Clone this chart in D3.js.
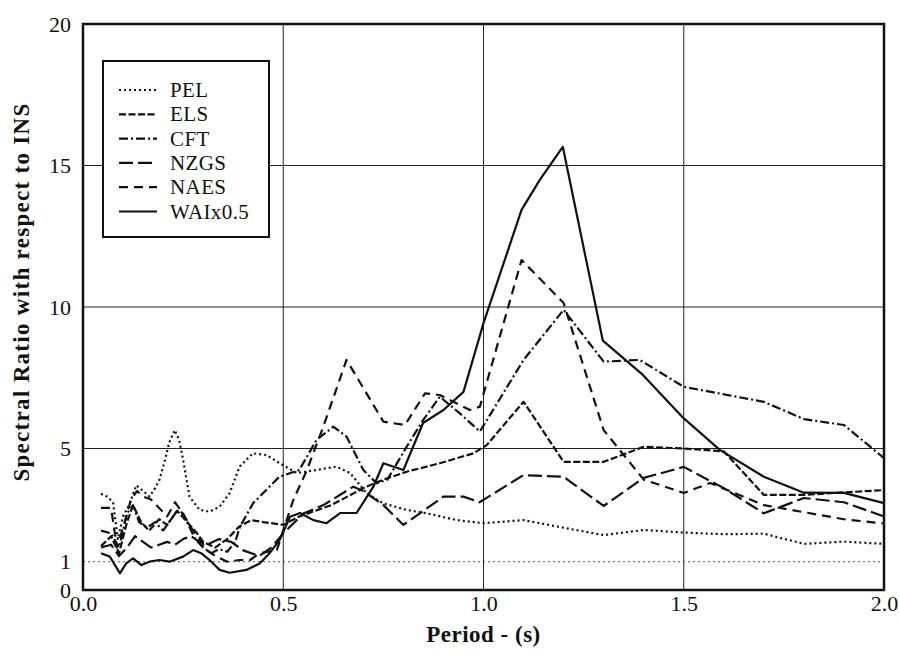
<!DOCTYPE html>
<html>
<head>
<meta charset="utf-8">
<script src="https://cdn.jsdelivr.net/npm/d3@7"></script>
<style>
  body { margin: 0; background: #fff; }
  text { font-family: "Liberation Serif", "Times New Roman", serif; fill: #111; }
</style>
</head>
<body>
<div id="chart"></div>
<script>
// series names + dash styles (legend order)
const seriesNames = ["PEL", "ELS", "CFT", "NZGS", "NAES", "WAIx0.5"];

// periods (s) and spectral ratios, one pair of arrays per site
const pelT = [0.045,0.06,0.075,0.087,0.1,0.115,0.133,0.15,0.166,0.18,0.191,0.205,0.215,0.229,0.24,0.25,0.266,0.291,0.316,0.341,0.366,0.391,0.424,0.458,0.491,0.534,0.583,0.633,0.667,0.708,0.75,0.808,0.858,0.933,1.0,1.1,1.2,1.3,1.4,1.5,1.6,1.7,1.8,1.9,2.0];
const pelV = [3.4,3.3,3.1,1.8,2.6,3.0,3.7,3.5,3.3,3.6,3.9,4.6,5.2,5.65,5.3,4.6,3.3,2.83,2.77,2.94,3.42,4.36,4.83,4.77,4.48,4.13,4.24,4.36,4.13,3.42,3.06,2.83,2.71,2.47,2.36,2.47,2.2,1.94,2.12,2.03,1.97,1.99,1.63,1.71,1.63];

const elsT = [0.045,0.07,0.09,0.11,0.125,0.145,0.165,0.19,0.21,0.235,0.26,0.285,0.3,0.33,0.36,0.39,0.42,0.45,0.5,0.54,0.58,0.62,0.66,0.7,0.75,0.808,0.891,0.975,1.008,1.1,1.2,1.3,1.4,1.5,1.6,1.7,1.8,1.9,2.0];
const elsV = [1.55,1.9,1.3,2.4,3.0,2.4,2.1,2.5,2.3,2.8,2.4,2.0,1.7,1.5,1.8,2.24,2.47,2.4,2.3,2.6,2.8,3.0,3.3,3.6,3.9,4.18,4.48,4.83,5.12,6.65,4.53,4.53,5.06,5.0,4.9,3.36,3.36,3.45,3.53];

const cftT = [0.045,0.07,0.09,0.11,0.125,0.14,0.16,0.18,0.2,0.22,0.24,0.26,0.28,0.3,0.32,0.34,0.36,0.38,0.392,0.425,0.49,0.54,0.583,0.625,0.658,0.7,0.733,0.76,0.808,0.849,0.891,0.941,0.991,1.1,1.2,1.3,1.39,1.5,1.7,1.8,1.9,2.0];
const cftV = [2.1,2.0,1.5,2.7,3.0,2.4,2.2,2.4,2.1,2.5,2.9,2.4,1.8,1.5,1.3,1.45,1.35,1.7,2.24,3.07,4.0,4.24,5.3,5.77,5.42,4.24,3.77,3.9,5.06,6.0,6.83,6.24,5.6,8.13,9.9,8.07,8.13,7.18,6.65,6.04,5.83,4.66];

const nzgsT = [0.045,0.07,0.09,0.11,0.13,0.15,0.17,0.19,0.21,0.23,0.25,0.27,0.29,0.31,0.34,0.37,0.4,0.44,0.47,0.5,0.55,0.6,0.675,0.7,0.75,0.8,0.85,0.9,0.95,0.99,1.1,1.2,1.3,1.4,1.5,1.6,1.7,1.8,1.9,2.0];
const nzgsV = [1.5,1.6,1.2,1.5,1.9,1.7,1.5,1.6,1.7,1.6,1.8,1.9,1.7,1.6,1.8,1.7,1.4,1.2,1.5,2.0,2.7,3.0,3.65,3.5,3.0,2.3,2.8,3.3,3.3,3.1,4.06,4.0,2.97,3.96,4.35,3.6,2.71,3.25,3.1,2.6];

const naesT = [0.045,0.07,0.085,0.1,0.12,0.135,0.15,0.17,0.19,0.21,0.23,0.25,0.27,0.29,0.31,0.33,0.36,0.392,0.417,0.442,0.484,0.525,0.558,0.6,0.658,0.75,0.804,0.854,0.891,0.966,0.991,1.095,1.2,1.3,1.4,1.5,1.566,1.7,1.8,1.9,2.0];
const naesV = [2.9,2.9,1.5,2.2,3.2,3.5,3.3,3.2,2.9,2.6,3.1,2.7,2.2,1.8,1.4,1.2,1.0,1.06,1.06,1.3,1.41,3.18,4.2,5.77,8.13,5.95,5.83,6.95,6.89,6.36,6.48,11.66,10.14,5.65,3.9,3.43,3.78,3.0,2.75,2.5,2.35];

const waiT = [0.045,0.067,0.092,0.108,0.125,0.146,0.166,0.191,0.216,0.25,0.275,0.295,0.316,0.341,0.366,0.408,0.441,0.466,0.491,0.517,0.542,0.575,0.608,0.642,0.683,0.725,0.75,0.8,0.849,0.9,0.95,1.0,1.095,1.141,1.198,1.298,1.398,1.496,1.59,1.7,1.8,1.9,2.0];
const waiV = [1.3,1.18,0.59,0.94,1.12,0.88,1.0,1.06,1.0,1.18,1.41,1.3,1.06,0.71,0.61,0.71,0.94,1.3,1.77,2.59,2.72,2.47,2.36,2.72,2.72,3.65,4.48,4.24,5.9,6.36,7.0,9.43,13.43,14.5,15.66,8.81,7.6,6.12,4.95,4.0,3.44,3.43,3.07];

const xTicks = [0, 0.5, 1.0, 1.5, 2.0];
const yTicks = [0, 1, 5, 10, 15, 20];
const gridX = [0.5, 1.0, 1.5];
const gridY = [5, 10, 15];

const dashes = ["2,3", "7,2.5", "9,3,2,3", "14,5", "9,6", null];
const periods = [pelT, elsT, cftT, nzgsT, naesT, waiT];
const ratios = [pelV, elsV, cftV, nzgsV, naesV, waiV];

const margin = {top: 24, right: 15, bottom: 65, left: 83},
      width = 899 - margin.left - margin.right,
      height = 655 - margin.top - margin.bottom;

const svg = d3.select("#chart")
  .append("svg")
    .attr("width", 899)
    .attr("height", 655)
  .append("g")
    .attr("transform", `translate(${margin.left}, ${margin.top})`);

const x = d3.scaleLinear().domain([0, 2]).range([0, width]);
const y = d3.scaleLinear().domain([0, 20]).range([height, 0]);

// grid
svg.selectAll(".gx").data(gridX).enter().append("line")
  .attr("x1", d => x(d)).attr("x2", d => x(d))
  .attr("y1", 0).attr("y2", height)
  .attr("stroke", "#222").attr("stroke-width", 1);
svg.selectAll(".gy").data(gridY).enter().append("line")
  .attr("x1", 0).attr("x2", width)
  .attr("y1", d => y(d)).attr("y2", d => y(d))
  .attr("stroke", "#222").attr("stroke-width", 1);
// unity line
svg.append("line")
  .attr("x1", 0).attr("x2", width)
  .attr("y1", y(1)).attr("y2", y(1))
  .attr("stroke", "#555").attr("stroke-width", 1)
  .attr("stroke-dasharray", "2,3");

// axes (labels only, frame drawn separately)
const xAxis = svg.append("g")
  .attr("transform", `translate(0, ${height})`)
  .call(d3.axisBottom(x).tickValues(xTicks).tickSize(0).tickPadding(5).tickFormat(d3.format(".1f")));
const yAxis = svg.append("g")
  .call(d3.axisLeft(y).tickValues(yTicks).tickSize(0).tickPadding(12).tickFormat(d3.format("d")));
[xAxis, yAxis].forEach(a => {
  a.select(".domain").remove();
  a.selectAll("text").style("font-size", "22px").style("font-family", "Liberation Serif, serif").attr("fill", "#111");
});

// lines
const line = d3.line()
  .x(d => x(d[0]))
  .y(d => y(d[1]));

seriesNames.forEach((name, i) => {
  const pts = d3.zip(periods[i], ratios[i]);
  svg.append("path")
    .datum(pts)
    .attr("fill", "none")
    .attr("stroke", "#111")
    .attr("stroke-width", 2.2)
    .attr("stroke-dasharray", dashes[i])
    .attr("stroke-linejoin", "round")
    .attr("d", line);
});

// frame
svg.append("rect")
  .attr("width", width).attr("height", height)
  .attr("fill", "none").attr("stroke", "#111").attr("stroke-width", 2.5);

// axis titles
svg.append("text")
  .attr("x", width / 2).attr("y", height + 52)
  .attr("text-anchor", "middle")
  .style("font-size", "23px").style("font-weight", "bold")
  .style("letter-spacing", "0.5px")
  .text("Period - (s)");
svg.append("text")
  .attr("transform", `translate(${29 - margin.left}, ${292 - margin.top}) rotate(-90)`)
  .attr("text-anchor", "middle")
  .style("font-size", "23px").style("font-weight", "bold")
  .style("letter-spacing", "1.3px")
  .text("Spectral Ratio with respect to INS");

// legend
const legend = svg.append("g").attr("transform", `translate(${103 - margin.left}, ${61 - margin.top})`);
legend.append("rect")
  .attr("width", 166).attr("height", 176)
  .attr("fill", "#fff").attr("stroke", "#111").attr("stroke-width", 2);
seriesNames.forEach((name, i) => {
  const ly = 29 + i * 24.3;
  legend.append("line")
    .attr("x1", 16).attr("x2", 54)
    .attr("y1", ly).attr("y2", ly)
    .attr("stroke", "#111").attr("stroke-width", 2.2)
    .attr("stroke-dasharray", dashes[i]);
  legend.append("text")
    .attr("x", 67).attr("y", ly + 7)
    .style("font-size", "21px")
    .style("letter-spacing", "0.4px")
    .text(name);
});
</script>
</body>
</html>
